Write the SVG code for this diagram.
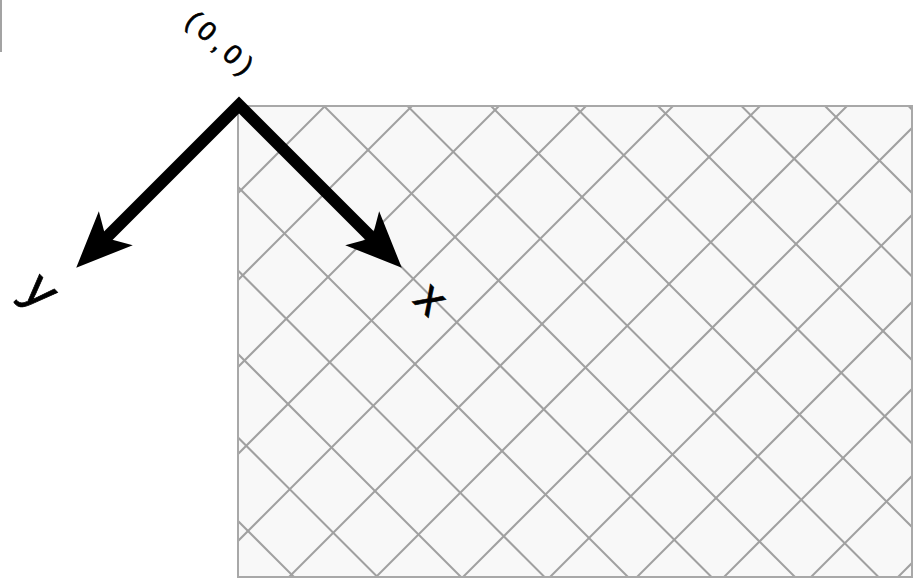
<svg xmlns="http://www.w3.org/2000/svg" width="920" height="580" viewBox="0 0 920 580">
  <style>
    .grid line { stroke: #a0a0a0; stroke-width: 2; }
    .lbl { font-family: "Liberation Sans", "DejaVu Sans", sans-serif; fill: #000; stroke: #000; stroke-width: 0.7; text-anchor: middle; dominant-baseline: central; }
    .axis { fill: none; stroke: #000; stroke-width: 12; stroke-linejoin: miter; }
  </style>
  <defs>
    <clipPath id="rc">
      <rect x="238" y="106" width="674" height="471"/>
    </clipPath>
    <marker id="ah" markerUnits="userSpaceOnUse" markerWidth="60" markerHeight="52" viewBox="0 0 60 52" refX="18" refY="26" orient="auto-start-reverse">
      <path d="M58,26 L2,2 L16,26 L2,50 Z" fill="#000"/>
    </marker>
  </defs>
  <rect width="920" height="580" fill="#fff"/>
  <line x1="1" y1="0" x2="1" y2="52" stroke="#a3a3a3" stroke-width="2"/>
  <g id="plane">
    <rect x="238" y="106" width="674" height="471" fill="#f8f8f8"/>
    <g class="grid" clip-path="url(#rc)">
      <line x1="200" y1="-602.5" x2="950" y2="147.5"/>
      <line x1="200" y1="-519" x2="950" y2="231"/>
      <line x1="200" y1="-435.5" x2="950" y2="314.5"/>
      <line x1="200" y1="-352" x2="950" y2="398"/>
      <line x1="200" y1="-268.5" x2="950" y2="481.5"/>
      <line x1="200" y1="-185" x2="950" y2="565"/>
      <line x1="200" y1="-101.5" x2="950" y2="648.5"/>
      <line x1="200" y1="-18" x2="950" y2="732"/>
      <line x1="200" y1="65.5" x2="950" y2="815.5"/>
      <line x1="200" y1="149" x2="950" y2="899"/>
      <line x1="200" y1="232.5" x2="950" y2="982.5"/>
      <line x1="200" y1="316" x2="950" y2="1066"/>
      <line x1="200" y1="399.5" x2="950" y2="1149.5"/>
      <line x1="200" y1="483" x2="950" y2="1233"/>
      <line x1="200" y1="144" x2="950" y2="-606"/>
      <line x1="200" y1="231" x2="950" y2="-519"/>
      <line x1="200" y1="318" x2="950" y2="-432"/>
      <line x1="200" y1="405" x2="950" y2="-345"/>
      <line x1="200" y1="492" x2="950" y2="-258"/>
      <line x1="200" y1="579" x2="950" y2="-171"/>
      <line x1="200" y1="666" x2="950" y2="-84"/>
      <line x1="200" y1="753" x2="950" y2="3"/>
      <line x1="200" y1="840" x2="950" y2="90"/>
      <line x1="200" y1="927" x2="950" y2="177"/>
      <line x1="200" y1="1014" x2="950" y2="264"/>
      <line x1="200" y1="1101" x2="950" y2="351"/>
      <line x1="200" y1="1188" x2="950" y2="438"/>
      <line x1="200" y1="1275" x2="950" y2="525"/>
    </g>
    <rect x="238" y="106" width="674" height="471" fill="none" stroke="#a8a8a8" stroke-width="2"/>
  </g>
  <g id="connectors">
    <path class="axis" d="M104.5,239.5 L239,105 L373.5,239.5" marker-start="url(#ah)" marker-end="url(#ah)"/>
  </g>
  <g id="origin-label">
    <text class="lbl" x="222" y="45" font-size="27" letter-spacing="6" transform="rotate(42 222 45)">(0,0)</text>
  </g>
  <g id="x-label">
    <text class="lbl" x="432" y="298" font-size="48" transform="rotate(45 432 298)">x</text>
  </g>
  <g id="y-label">
    <text class="lbl" x="42" y="290" font-size="52" transform="rotate(45 42 290)">y</text>
  </g>
</svg>
